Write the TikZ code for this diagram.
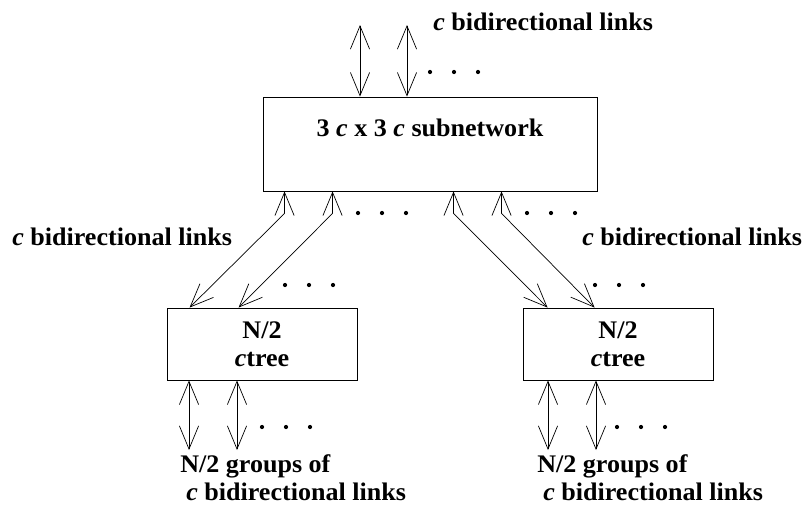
\documentclass[tikz,border=0pt]{standalone}
\usepackage{fontspec}
\setmainfont[FakeStretch=1.03]{Liberation Serif}
\usetikzlibrary{arrows.meta,calc}

\begin{document}
\begin{tikzpicture}[x=0.025cm, y=-0.025cm,
    every node/.style={font=\fontsize{18}{20}\selectfont\bfseries},
    >={Straight Barb[length=0.58cm, width=0.48cm]},
    bilink/.style={<->, line width=0.5pt},
    netbox/.style={draw, line width=0.6pt, minimum height=1.8cm,
                   align=center, inner sep=0pt}]
  \useasboundingbox (0,0) rectangle (808,513);

  \node[netbox, minimum width=8.35cm, minimum height=2.35cm, text depth=0.8cm]
        (sub) at (430,144) {3 \textit{c} x 3 \textit{c} subnetwork};
  \node[netbox, minimum width=4.75cm] (ctl) at (262,344) {N/2\\\textit{c}tree};
  \node[netbox, minimum width=4.75cm] (ctr) at (618,344) {N/2\\\textit{c}tree};

  % links into the subnetwork
  \coordinate (in1) at (360,25);
  \coordinate (in2) at (407,25);
  \draw[bilink] (in1) -- (in1 |- sub.north);
  \draw[bilink] (in2) -- (in2 |- sub.north);

  % links from the subnetwork to the two ctrees
  \draw[bilink] ($(sub.south west)+(22,0)$) -- ++(0,22) -- ($(ctl.north west)+(23,0)$);
  \draw[bilink] ($(sub.south west)+(70,0)$) -- ++(0,22) -- ($(ctl.north west)+(72,0)$);
  \draw[bilink] ($(sub.south west)+(191,0)$) -- ++(0,22) -- ($(ctr.north west)+(25,0)$);
  \draw[bilink] ($(sub.south west)+(239,0)$) -- ++(0,22) -- ($(ctr.north west)+(72,0)$);

  % links out of the ctrees
  \coordinate (out1) at (189,450);
  \coordinate (out2) at (237,450);
  \coordinate (out3) at (548,450);
  \coordinate (out4) at (596,450);
  \draw[bilink] (out1 |- ctl.south) -- (out1);
  \draw[bilink] (out2 |- ctl.south) -- (out2);
  \draw[bilink] (out3 |- ctr.south) -- (out3);
  \draw[bilink] (out4 |- ctr.south) -- (out4);

  % the dots
  \foreach \x/\y in {430/72, 358/213, 527/213, 285/285, 595/285, 262/427, 617/427}
    \foreach \k in {0,1,2}
      \fill (\x+24*\k,\y) circle (1.5pt);

  % labels
  \node[anchor=west, inner sep=0pt] (toplbl) at (433,22) {\textit{c} bidirectional links};
  \node[anchor=west, inner sep=0pt] (lftlbl) at (12,237) {\textit{c} bidirectional links};
  \node[anchor=west, inner sep=0pt] (rgtlbl) at (582,237) {\textit{c} bidirectional links};
  \node[anchor=north west, inner sep=0pt, align=left] (botl) at (180,454)
        {N/2 groups of\\\hspace*{0.15cm}\textit{c} bidirectional links};
  \node[anchor=north west, inner sep=0pt, align=left] (botr) at (537,454)
        {N/2 groups of\\\hspace*{0.15cm}\textit{c} bidirectional links};
\end{tikzpicture}
\end{document}
